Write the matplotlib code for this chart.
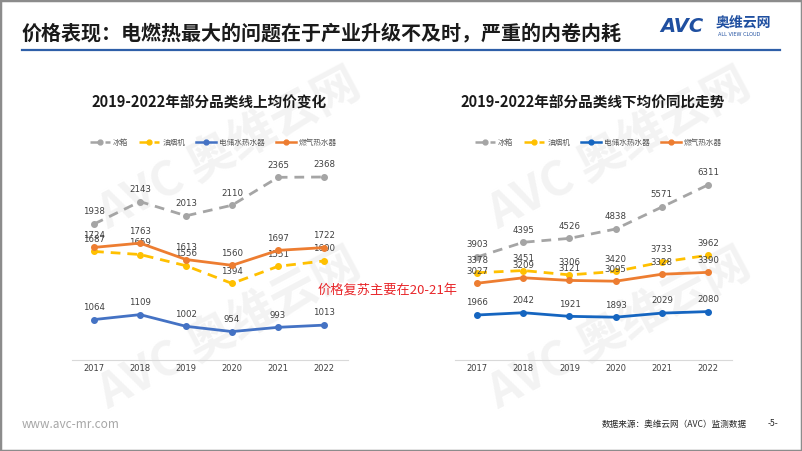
import numpy as np
import matplotlib
matplotlib.use('Agg')
import matplotlib.pyplot as plt
from matplotlib.lines import Line2D
from matplotlib.patches import Rectangle

plt.rcParams['font.family'] = ['Noto Sans CJK SC', 'DejaVu Sans']

years = ['2017', '2018', '2019', '2020', '2021', '2022']
series_names = ['冰箱', '油烟机', '电储水热水器', '燃气热水器']

# online average price
online_fridge = [1938, 2143, 2013, 2110, 2365, 2368]
online_hood = [1687, 1659, 1556, 1394, 1551, 1600]
online_elec = [1064, 1109, 1002, 954, 993, 1013]
online_gas = [1724, 1763, 1613, 1560, 1697, 1722]

# offline average price
offline_fridge = [3903, 4395, 4526, 4838, 5571, 6311]
offline_hood = [3378, 3451, 3306, 3420, 3733, 3962]
offline_elec = [1966, 2042, 1921, 1893, 2029, 2080]
offline_gas = [3027, 3209, 3121, 3095, 3328, 3390]

W, H = 802, 451
fig = plt.figure(figsize=(W/100, H/100), dpi=100)


def fx(px):
	return px / W


def fy(py):
	return 1 - py / H


# frame
fig.patches.append(Rectangle((0, 0), 1, 1, transform=fig.transFigure, fill=False,
	edgecolor='#8c8c8c', linewidth=2.5))

# watermark
for cx, cy in [(230, 150), (620, 150), (230, 330), (620, 330)]:
	fig.text(fx(cx), fy(cy), 'AVC 奥维云网', fontsize=34, fontweight='bold', color='#f3f3f3',
		rotation=28, ha='center', va='center', zorder=0)

# title bar
fig.text(fx(22), fy(33), '价格表现：电燃热最大的问题在于产业升级不及时，严重的内卷内耗',
	fontsize=14.4, fontweight='bold', color='#1a1a1a', va='center', ha='left')
fig.add_artist(Line2D([fx(22), fx(780)], [fy(49.5), fy(49.5)], color='#2E5FA8', lw=1.6))
fig.text(fx(660), fy(27), 'AVC', fontsize=14, fontweight='bold', color='#1F4FA0',
	style='italic', va='center', ha='left', family='DejaVu Sans')
fig.text(fx(716), fy(23), '奥维云网', fontsize=10, fontweight='bold', color='#1F4FA0',
	va='center', ha='left')
fig.text(fx(718), fy(34.5), 'ALL VIEW CLOUD', fontsize=3.6, color='#1F4FA0',
	va='center', ha='left', family='DejaVu Sans')

colors = {'冰箱': '#A5A5A5', '油烟机': '#FFC000', '电储水热水器_l': '#4472C4',
	'电储水热水器_r': '#1565C0', '燃气热水器': '#ED7D31'}


def draw_panel(rect, ylim, title, title_x, data, blue, legend_x):
	ax = fig.add_axes(rect)
	ax.set_zorder(2)
	ax.patch.set_alpha(0)
	x = np.arange(len(years))
	styles = [
		(data[0], colors['冰箱'], (0, (3.5, 2.5))),
		(data[1], colors['油烟机'], (0, (3.5, 2.5))),
		(data[2], blue, '-'),
		(data[3], colors['燃气热水器'], '-'),
	]
	handles = []
	for vals, c, ls in styles:
		ax.plot(x, vals, color=c, lw=2, linestyle=ls, marker='o', markersize=4, zorder=3)
		handles.append(Line2D([0], [0], color=c, lw=1.8, linestyle=ls, marker='o', markersize=3.5))
		for xi, v in zip(x, vals):
			ax.annotate(str(v), (xi, v), xytext=(0, 5.5), textcoords='offset points',
				ha='center', va='bottom', fontsize=6.2, color='#404040', family='DejaVu Sans')
	ax.set_xlim(-0.48, 5.52)
	ax.set_ylim(*ylim)
	ax.set_xticks(x)
	ax.set_xticklabels(years, fontsize=6, color='#404040', family='DejaVu Sans')
	ax.set_yticks([])
	for s in ['top', 'right', 'left']:
		ax.spines[s].set_visible(False)
	ax.spines['bottom'].set_color('#d9d9d9')
	ax.tick_params(axis='x', length=0, pad=3)
	fig.text(title_x, fy(103), title, fontsize=10.5, fontweight='bold', color='#1a1a1a',
		ha='left', va='center')
	fig.legend(handles, series_names, loc='center left', bbox_to_anchor=(legend_x, fy(143)),
		ncol=4, frameon=False, fontsize=5.5, handlelength=2.6, columnspacing=1.45,
		handletextpad=0.4, labelcolor='#595959', borderpad=0, borderaxespad=0)
	return ax


draw_panel([fx(72), fy(360), fx(276), fy(150) - fy(360)], (694, 2615),
	'2019-2022年部分品类线上均价变化', fx(91),
	[online_fridge, online_hood, online_elec, online_gas], colors['电储水热水器_l'], fx(90))
draw_panel([fx(455), fy(360), fx(277), fy(150) - fy(360)], (463, 7477),
	'2019-2022年部分品类线下均价同比走势', fx(460),
	[offline_fridge, offline_hood, offline_elec, offline_gas], colors['电储水热水器_r'], fx(475))

fig.text(fx(318), fy(291), '价格复苏主要在20-21年', fontsize=9.5, color='#E8262A',
	ha='left', va='center', zorder=5)

# footer
fig.text(fx(22), fy(424), 'www.avc-mr.com', fontsize=8.5, color='#a6a6a6', ha='left', va='center')
fig.text(fx(602), fy(424), '数据来源：奥维云网（AVC）监测数据', fontsize=6.2, color='#262626',
	ha='left', va='center')
fig.text(fx(768), fy(424), '-5-', fontsize=6.2, color='#262626', ha='left', va='center')

fig.savefig('out.png', dpi=100)
